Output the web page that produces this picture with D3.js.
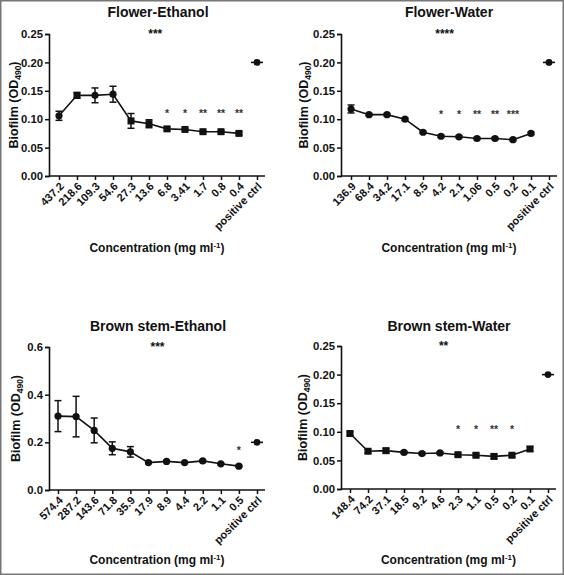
<!DOCTYPE html>
<html><head><meta charset="utf-8">
<script src="https://cdn.jsdelivr.net/npm/d3@7/dist/d3.min.js"></script>
<style>
body{margin:0;background:#fff;}
text{font-family:"Liberation Sans",Arial,sans-serif;font-weight:bold;fill:#111;}
</style></head>
<body><svg id="c" width="564" height="575"></svg>
<script>
// ---- Data ----
const feCats = ["437.2","218.6","109.3","54.6","27.3","13.6","6.8","3.41","1.7","0.8","0.4","positive ctrl"];
const feVals = [0.106,0.142,0.142,0.144,0.097,0.092,0.083,0.082,0.078,0.078,0.075,0.200];
const feErr  = [0.008,0.005,0.013,0.014,0.013,0.007,0.003,0.002,0.002,0.002,0.003,0.001];
const feShape= ["c","s","c","c","s","s","s","s","s","s","s","c"];
const feStars= ["","","","","","","*","*","**","**","**",""];
const feTop  = "***";

const fwCats = ["136.9","68.4","34.2","17.1","8.5","4.2","2.1","1.06","0.5","0.2","0.1","positive ctrl"];
const fwVals = [0.118,0.108,0.108,0.100,0.077,0.070,0.069,0.066,0.066,0.064,0.075,0.200];
const fwErr  = [0.007,0.002,0.002,0.002,0.002,0.002,0.002,0.002,0.002,0.002,0.002,0.001];
const fwShape= ["c","c","c","c","c","c","c","c","c","c","c","c"];
const fwStars= ["","","","","","*","*","**","**","***","",""];
const fwTop  = "****";

const beCats = ["574.4","287.2","143.6","71.8","35.9","17.9","8.9","4.4","2.2","1.1","0.5","positive ctrl"];
const beVals = [0.310,0.308,0.250,0.175,0.160,0.115,0.120,0.115,0.122,0.110,0.100,0.200];
const beErr  = [0.065,0.085,0.052,0.027,0.022,0.004,0.004,0.004,0.004,0.004,0.004,0.002];
const beShape= ["c","c","c","c","c","c","c","c","c","c","c","c"];
const beStars= ["","","","","","","","","","","*",""];
const beTop  = "***";

const bwCats = ["148.4","74.2","37.1","18.5","9.2","4.6","2.3","1.1","0.5","0.2","0.1","positive ctrl"];
const bwVals = [0.097,0.066,0.067,0.064,0.062,0.063,0.060,0.059,0.057,0.059,0.070,0.200];
const bwErr  = [0.003,0.003,0.004,0.002,0.002,0.002,0.003,0.003,0.004,0.003,0.004,0.001];
const bwShape= ["s","s","s","c","c","c","s","s","s","s","s","c"];
const bwStars= ["","","","","","","*","*","**","*","",""];
const bwTop  = "**";

const yTicks025 = [0,0.05,0.10,0.15,0.20,0.25];
const yTicks06  = [0,0.2,0.4,0.6];

// ---- Layout ----
const panels = [
  {title:"Flower-Ethanol", cats:feCats, vals:feVals, err:feErr, shape:feShape, stars:feStars, top:feTop, starY:0.115, ymax:0.25, ticks:yTicks025, fmt:d3.format(".2f"),
   ax:49, yT:34, yB:176, x0:59, x1:257, axEnd:265, tx:158, ty:12, ylx:13, xly:248, topX:5.35},
  {title:"Flower-Water", cats:fwCats, vals:fwVals, err:fwErr, shape:fwShape, stars:fwStars, top:fwTop, starY:0.113, ymax:0.25, ticks:yTicks025, fmt:d3.format(".2f"),
   ax:341, yT:34, yB:176, x0:351, x1:549, axEnd:557, tx:449, ty:12, ylx:303, xly:248, topX:5.2},
  {title:"Brown stem-Ethanol", cats:beCats, vals:beVals, err:beErr, shape:beShape, stars:beStars, top:beTop, starY:0.176, ymax:0.6, ticks:yTicks06, fmt:d3.format(".1f"),
   ax:49, yT:347, yB:490, x0:58, x1:257, axEnd:265, tx:158, ty:326, ylx:15, xly:560, topX:5.5},
  {title:"Brown stem-Water", cats:bwCats, vals:bwVals, err:bwErr, shape:bwShape, stars:bwStars, top:bwTop, starY:0.108, ymax:0.25, ticks:yTicks025, fmt:d3.format(".2f"),
   ax:341, yT:346, yB:489, x0:350, x1:548, axEnd:556, tx:449, ty:326, ylx:302, xly:560, topX:5.2}
];

const svg = d3.select("#c");
svg.append("rect").attr("x",0.75).attr("y",0.75).attr("width",562.5).attr("height",573.5)
  .attr("fill","#fff").attr("stroke","#777").attr("stroke-width",1.5);

panels.forEach(p=>{
  const g = svg.append("g");
  const x = d3.scalePoint().domain(d3.range(p.cats.length)).range([p.x0,p.x1]);
  const y = d3.scaleLinear().domain([0,p.ymax]).range([p.yB,p.yT]);

  // y axis
  const ya = g.append("g").attr("transform",`translate(${p.ax},0)`)
    .call(d3.axisLeft(y).tickValues(p.ticks).tickFormat(p.fmt).tickSize(4).tickPadding(2));
  ya.select(".domain").attr("stroke","#111").attr("stroke-width",1.6);
  ya.selectAll(".tick line").attr("stroke","#111").attr("stroke-width",1.5);
  ya.selectAll("text").style("font-size","11.3px").style("font-family","Liberation Sans, Arial").style("font-weight","bold").attr("fill","#111");

  // x axis
  const xa = g.append("g").attr("transform",`translate(0,${p.yB})`)
    .call(d3.axisBottom(x).tickFormat(i=>p.cats[i]).tickSize(4).tickSizeOuter(0));
  xa.select(".domain").remove();
  g.append("line").attr("x1",p.ax).attr("x2",p.axEnd).attr("y1",p.yB).attr("y2",p.yB)
    .attr("stroke","#111").attr("stroke-width",1.6);
  xa.selectAll(".tick line").attr("stroke","#111").attr("stroke-width",1.5);
  xa.selectAll("text").style("font-size","11px").style("font-family","Liberation Sans, Arial").style("font-weight","bold").attr("fill","#111")
    .attr("text-anchor","end").attr("dy",0).attr("y",0)
    .attr("transform","translate(5,11) rotate(-45)");

  // title
  g.append("text").attr("x",p.tx).attr("y",p.ty+5).attr("text-anchor","middle")
    .style("font-size","14px").text(p.title);

  // y label
  const yl = g.append("text").attr("transform",`translate(${p.ylx+4.5},${(p.yT+p.yB)/2}) rotate(-90)`)
    .attr("text-anchor","middle").style("font-size","12.5px");
  yl.append("tspan").text("Biofilm (OD");
  yl.append("tspan").attr("dy",3).style("font-size","8.5px").text("490");
  yl.append("tspan").attr("dy",-3).text(")");

  // x label
  const xl = g.append("text").attr("x",(p.ax+p.axEnd)/2).attr("y",p.xly+4).attr("text-anchor","middle")
    .style("font-size","12px");
  xl.append("tspan").text("Concentration (mg ml");
  xl.append("tspan").attr("dy",-4).style("font-size","8px").text("-1");
  xl.append("tspan").attr("dy",4).text(")");

  const n = p.cats.length;
  const main = d3.range(n-1);
  // line
  g.append("path").datum(main)
    .attr("d",d3.line().x(i=>x(i)).y(i=>y(p.vals[i])))
    .attr("fill","none").attr("stroke","#111").attr("stroke-width",1.6);

  // error bars
  main.forEach(i=>{
    const e = p.err[i]; if(!e) return;
    const cx = x(i), t = y(p.vals[i]+e), b = y(p.vals[i]-e);
    g.append("line").attr("x1",cx).attr("x2",cx).attr("y1",t).attr("y2",b).attr("stroke","#111").attr("stroke-width",1.5);
    [t,b].forEach(yy=>g.append("line").attr("x1",cx-3.5).attr("x2",cx+3.5).attr("y1",yy).attr("y2",yy).attr("stroke","#111").attr("stroke-width",1.5));
  });

  // markers
  main.forEach(i=>{
    const cx = x(i), cy = y(p.vals[i]);
    if(p.shape[i]==="s") g.append("rect").attr("x",cx-3.5).attr("y",cy-3.5).attr("width",7).attr("height",7).attr("fill","#111");
    else g.append("circle").attr("cx",cx).attr("cy",cy).attr("r",3.6).attr("fill","#111");
  });

  // positive control
  const pc = n-1;
  g.append("line").attr("x1",x(pc)-6).attr("x2",x(pc)+6).attr("y1",y(p.vals[pc])).attr("y2",y(p.vals[pc]))
    .attr("stroke","#111").attr("stroke-width",1.6);
  g.append("circle").attr("cx",x(pc)).attr("cy",y(p.vals[pc])).attr("r",3.4).attr("fill","#111");

  // stars
  p.stars.forEach((s,i)=>{
    if(!s) return;
    g.append("text").attr("x",x(i)).attr("y",y(p.starY)+6).attr("text-anchor","middle")
      .style("font-size","10.5px").style("fill","#333").text(s);
  });
  const topPx = p.x0 + (p.x1-p.x0)/(n-1)*p.topX;
  g.append("text").attr("x",topPx).attr("y",p.yT+4).attr("text-anchor","middle")
    .style("font-size","12px").text(p.top);
});
</script></body></html>
